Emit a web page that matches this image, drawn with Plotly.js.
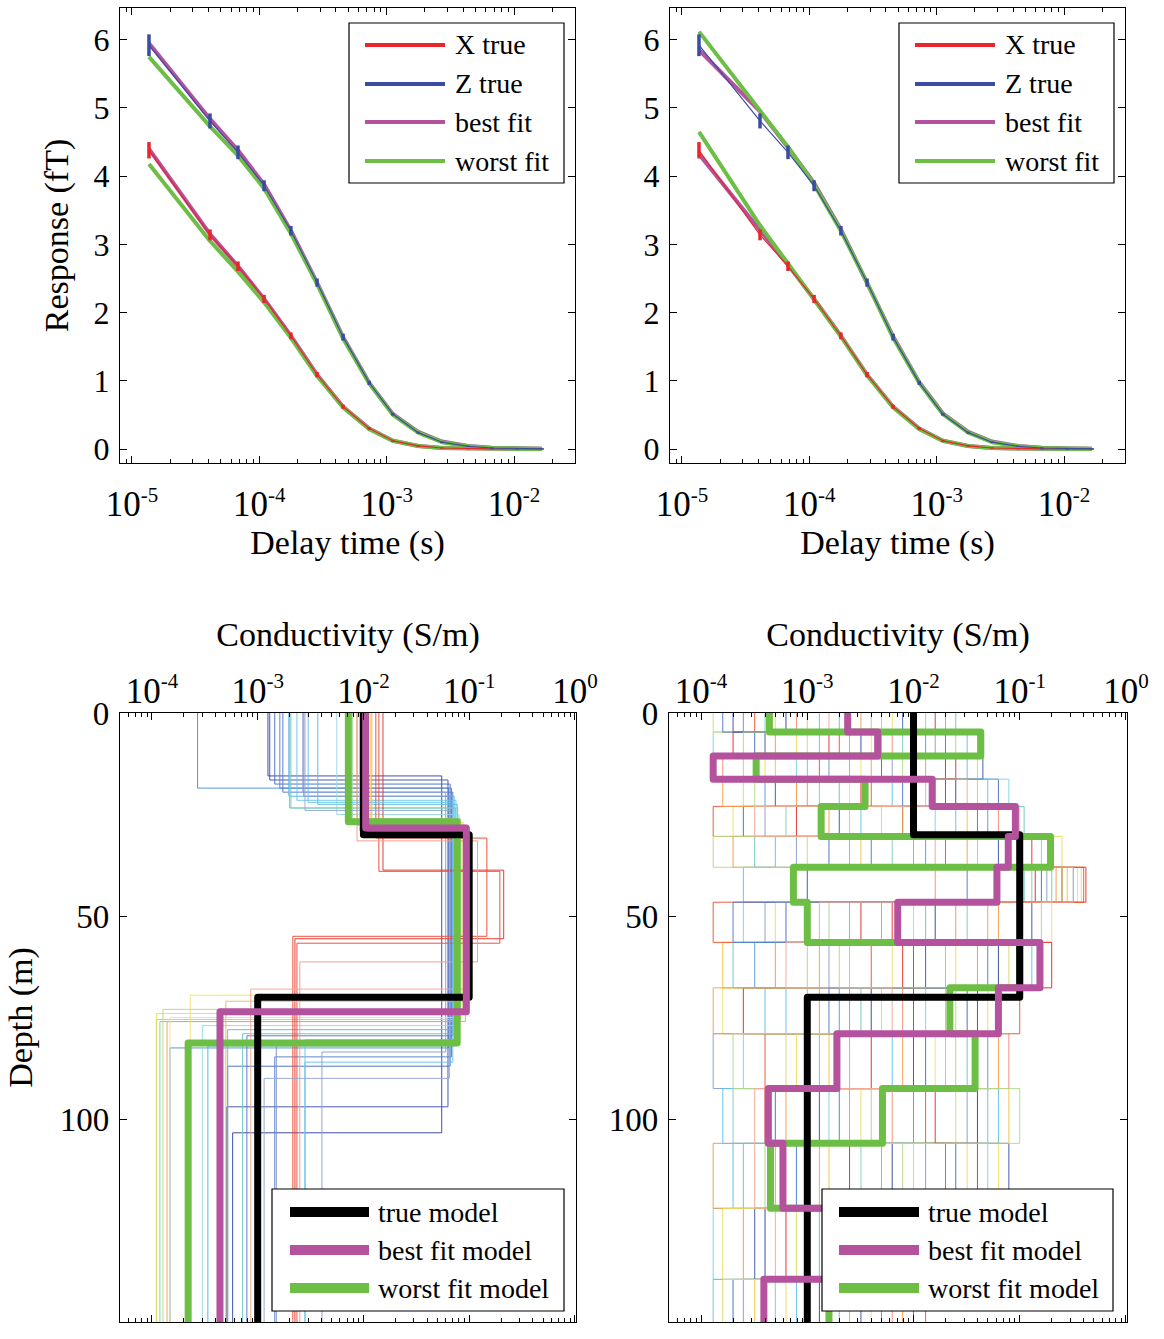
<!DOCTYPE html>
<html><head><meta charset="utf-8">
<script src="https://cdn.plot.ly/plotly-3.0.1.min.js"></script>
<style>body{margin:0;background:#fff}#chart{width:1164px;height:1339px}</style>
</head><body><div id="chart"></div>
<script>
// ================= DATA =================
// --- top panels: transient responses (fT) vs delay time (s)
const delayTimes = [1.36e-5, 4.1e-5, 6.8e-5, 1.09e-4, 1.77e-4, 2.84e-4, 4.55e-4, 7.3e-4, 1.12e-3, 1.77e-3, 2.72e-3, 4.36e-3, 6.7e-3, 1.06e-2, 1.66e-2];
const xTrue = [4.38, 3.14, 2.68, 2.20, 1.66, 1.09, 0.62, 0.30, 0.12, 0.045, 0.015, 0.005, 0.002, 0.001, 0.0005];
const xErr  = [0.12, 0.08, 0.07, 0.06, 0.05, 0.04, 0.03, 0.02, 0.015, 0.012, 0.01, 0.01, 0.01, 0.01, 0.01];
const zTrue = [5.92, 4.81, 4.35, 3.86, 3.20, 2.44, 1.64, 0.97, 0.51, 0.24, 0.10, 0.04, 0.015, 0.006, 0.003];
const zErr  = [0.16, 0.11, 0.10, 0.08, 0.07, 0.06, 0.05, 0.03, 0.02, 0.015, 0.012, 0.01, 0.01, 0.01, 0.01];
// left panel fits
const bestX_L  = [4.40, 3.15, 2.68, 2.20, 1.66, 1.09, 0.62, 0.30, 0.12, 0.045, 0.016, 0.006, 0.002, 0.001, 0.0005];
const worstX_L = [4.18, 3.05, 2.60, 2.15, 1.63, 1.07, 0.61, 0.29, 0.12, 0.045, 0.016, 0.006, 0.002, 0.001, 0.0005];
const bestZ_L  = [5.95, 4.84, 4.38, 3.88, 3.20, 2.44, 1.64, 0.97, 0.51, 0.25, 0.11, 0.045, 0.018, 0.007, 0.003];
const worstZ_L = [5.75, 4.73, 4.30, 3.82, 3.16, 2.42, 1.62, 0.96, 0.50, 0.24, 0.10, 0.04, 0.015, 0.006, 0.003];
// right panel fits
const bestX_R  = [4.32, 3.22, 2.70, 2.20, 1.66, 1.09, 0.62, 0.30, 0.12, 0.045, 0.016, 0.006, 0.002, 0.001, 0.0005];
const worstX_R = [4.65, 3.28, 2.72, 2.20, 1.65, 1.08, 0.61, 0.29, 0.12, 0.045, 0.016, 0.006, 0.002, 0.001, 0.0005];
const bestZ_R  = [5.85, 4.95, 4.42, 3.90, 3.22, 2.45, 1.65, 0.98, 0.52, 0.25, 0.11, 0.045, 0.018, 0.007, 0.003];
const worstZ_R = [6.12, 4.97, 4.43, 3.88, 3.20, 2.44, 1.63, 0.97, 0.51, 0.24, 0.10, 0.04, 0.015, 0.006, 0.003];
const responseLegend = ['X true', 'Z true', 'best fit', 'worst fit'];

// --- bottom panels: conductivity (S/m) models vs depth (m)
const trueSigma = [0.01, 0.1, 0.001];
const trueDepths = [0, 30, 70, 150];
const bestL_sigma = [0.0105, 0.094, 4.4e-4];
const bestL_depths = [0, 28.3, 73.6, 150];
const worstL_sigma = [0.0072, 0.077, 2.2e-4];
const worstL_depths = [0, 26.8, 81.3, 150];
// left ensemble: 3-layer models (s1 to depth d1, s2 to depth d2, s3 below)
const ensL_s1 = [2.7e-4, 1.25e-3, 1.3e-3, 1.45e-3, 1.62e-3, 1.73e-3, 1.97e-3, 2.06e-3, 2.35e-3, 2.67e-3, 2.73e-3, 3.7e-3, 5.6e-3, 2.0e-3, 7.9e-3, 1.17e-2, 8.7e-3, 9.5e-3, 1.0e-2, 1.05e-2, 1.31e-2, 1.53e-2, 1.4e-2, 8.7e-3, 1.2e-2, 9.2e-3, 3.0e-3, 2.8e-3];
const ensL_d1 = [18.5, 15.5, 16.5, 17.5, 18.5, 19.5, 20.5, 23.4, 21.5, 19.5, 20.5, 22.5, 25, 23.4, 26, 27, 27.6, 27, 28, 28.5, 30.8, 38.7, 39.0, 31.5, 29.5, 29, 22, 24];
const ensL_s2 = [0.064, 0.055, 0.063, 0.066, 0.068, 0.07, 0.072, 0.074, 0.075, 0.06, 0.066, 0.077, 0.08, 0.078, 0.083, 0.088, 0.092, 0.085, 0.09, 0.086, 0.147, 0.212, 0.195, 0.12, 0.1, 0.095, 0.07, 0.065];
const ensL_d2 = [82.5, 103.4, 97, 87, 84.7, 79.5, 82, 79, 80.5, 83.5, 81, 78, 77, 76, 75.5, 74, 76, 69.5, 73, 75, 55.0, 55.6, 56.7, 61.3, 68, 71, 86, 90];
const ensL_s3 = [1.48e-4, 5.8e-4, 5.1e-4, 5.2e-4, 1.45e-3, 7.9e-4, 3.38e-4, 7.2e-4, 2.8e-3, 4.05e-3, 1.5e-3, 5.2e-4, 3.0e-4, 1.19e-4, 1.1e-4, 1.11e-4, 1.39e-4, 2.3e-4, 1.27e-4, 1.48e-4, 2.15e-3, 2.25e-3, 2.35e-3, 2.5e-3, 8.6e-4, 5.0e-4, 2.8e-3, 1.15e-3];
const ensL_color = ['#4F8FD8','#34489E','#3D55AC','#4A6EC2','#5680CC','#4F7BD0','#4FB3E8','#6CC7C0','#6BC5EC','#8E9BD6','#7D8FCF','#5DBBE8','#9AD8E6','#80D0B0','#A8D8A0','#EEDC5A','#F3A24F','#F2E06B','#B5D98A','#EDE58A','#EE4A2E','#E5322D','#EA4A3A','#F59A88','#F5A592','#F5B64A','#62C3EA','#98A6DA'];
// right ensemble: 15-layer models with fixed interfaces
const ensR_depths = [0, 4.7, 10.6, 16.3, 23, 30.4, 38, 46.6, 56.5, 67.7, 79, 92.5, 106, 122, 139.5, 150];
const ensR_sigma = [
 [6.3e-4, 3.2e-3, 1.3e-4, 2.5e-2, 7.9e-3, 1e-1, 2.5e-1, 1.6e-2, 6.3e-2, 4.0e-3, 1e-3, 4.0e-2, 6.3e-3, 4.0e-4, 1.3e-3],
 [7.9e-3, 3.2e-4, 5.0e-3, 6.3e-2, 2.5e-4, 1.6e-3, 1.6e-1, 6.3e-4, 1e-2, 3.2e-2, 1.3e-2, 5.0e-4, 2.5e-2, 3.2e-3, 2.0e-4],
 [2.5e-4, 1.3e-2, 1.6e-3, 4.0e-4, 5.0e-2, 1.3e-2, 3.2e-1, 1e-1, 3.2e-4, 2.0e-3, 5.0e-2, 1e-2, 1e-3, 1.6e-2, 5.0e-3],
 [2.0e-3, 1.3e-3, 3.2e-2, 6.3e-3, 3.2e-3, 5.0e-4, 2.5e-4, 5.0e-3, 1.3e-1, 4.0e-4, 6.3e-3, 6.3e-2, 2.0e-4, 1.3e-3, 7.9e-4],
 [1.3e-2, 1.3e-4, 7.9e-4, 7.9e-2, 1.6e-2, 1.6e-1, 2.0e-1, 2.5e-4, 2.5e-3, 1.3e-2, 2.5e-4, 1.6e-3, 5.0e-2, 1.3e-4, 1e-2],
 [4.0e-4, 7.9e-3, 1e-2, 1.3e-3, 6.3e-4, 6.3e-3, 1.3e-1, 3.2e-2, 2.0e-2, 1e-3, 2.5e-3, 2.0e-4, 3.2e-3, 3.2e-2, 5.0e-4],
 [4.0e-3, 2.5e-2, 2.5e-4, 1.3e-2, 1e-1, 4.0e-2, 6.3e-2, 1.6e-3, 1e-3, 6.3e-2, 2.5e-2, 4.0e-3, 4.0e-4, 6.3e-3, 2.5e-3],
 [1.3e-4, 1e-3, 4.0e-2, 2.5e-4, 5.0e-3, 1e-3, 2.5e-1, 1e-2, 7.9e-2, 5.0e-3, 6.3e-4, 2.5e-2, 1e-2, 7.9e-4, 1.6e-4],
 [6.3e-3, 4.0e-3, 3.2e-3, 2.5e-3, 2.0e-4, 7.9e-2, 3.5e-1, 2.0e-1, 6.3e-3, 1.6e-4, 1.6e-2, 1e-3, 6.3e-2, 2.0e-3, 4.0e-3],
 [1e-3, 4.0e-2, 5.0e-4, 4.0e-2, 3.2e-2, 3.2e-3, 2.8e-1, 1e-3, 1.6e-4, 2.0e-2, 1.6e-3, 7.9e-2, 1.6e-3, 4.0e-2, 3.2e-4],
 [2.0e-2, 5.0e-4, 1.3e-2, 7.9e-4, 1.6e-3, 2.0e-4, 2.2e-1, 6.3e-2, 4.0e-2, 1.3e-3, 6.3e-2, 2.5e-3, 1.3e-4, 2.5e-4, 1.6e-3],
 [3.2e-4, 2.0e-3, 1.3e-3, 4.0e-3, 1.3e-4, 2.0e-2, 4.0e-1, 1.3e-4, 4.0e-3, 1e-1, 4.0e-4, 1.3e-2, 2.0e-2, 5.0e-3, 1.3e-2],
 [2.5e-3, 2.0e-4, 2.0e-2, 2.0e-2, 1e-2, 2.0e-1, 1.4e-1, 3.2e-3, 2.0e-1, 2.5e-4, 4.0e-3, 4.0e-4, 2.5e-3, 6.3e-4, 1e-3],
 [7.9e-4, 6.3e-3, 1.6e-4, 1e-3, 6.3e-2, 1e-2, 1.6e-2, 2.5e-2, 5.0e-4, 7.9e-3, 7.9e-2, 6.3e-3, 5.0e-4, 1.3e-2, 6.3e-3],
 [1e-2, 1.6e-2, 6.3e-3, 1e-2, 4.0e-4, 7.9e-4, 1.8e-1, 4.0e-4, 1.6e-3, 2.5e-3, 1.3e-4, 3.2e-2, 1.3e-2, 1.6e-3, 2.5e-4],
 [2.0e-4, 4.0e-4, 4.5e-2, 5.0e-4, 2.0e-3, 6.3e-2, 1e-3, 1.3e-1, 1.3e-2, 4.0e-2, 1e-2, 1.3e-3, 7.9e-2, 3.2e-4, 3.2e-3],
 [1.3e-3, 3.2e-2, 1e-3, 5.0e-2, 2.5e-2, 2.5e-3, 3.2e-1, 2.5e-3, 1e-1, 6.3e-4, 1.3e-3, 1.6e-4, 5.0e-3, 2.5e-2, 1.3e-4],
 [2.5e-2, 2.5e-3, 2.5e-3, 2.0e-3, 1.1e-1, 3.2e-4, 1.1e-1, 1.3e-2, 2.0e-4, 3.2e-3, 3.2e-2, 5.0e-2, 2.5e-4, 7.9e-3, 2.0e-3],
 [5.0e-4, 7.9e-4, 4.0e-4, 1.6e-2, 1.3e-3, 2.5e-1, 3.8e-1, 5.0e-4, 2.5e-2, 5.0e-2, 7.9e-4, 3.2e-3, 3.2e-2, 1.6e-4, 6.3e-4],
 [3.2e-3, 1e-2, 4.0e-3, 1.6e-4, 7.9e-3, 3.2e-2, 2.5e-1, 5.0e-2, 1.3e-3, 1.3e-4, 7.9e-3, 6.3e-4, 1.3e-3, 2.5e-3, 7.9e-3],
 [1.6e-2, 1.6e-3, 2.5e-2, 3.2e-3, 7.9e-4, 1.3e-1, 4.2e-1, 6.3e-3, 7.9e-3, 1e-2, 4.0e-2, 1.6e-2, 4.0e-2, 1e-3, 4.0e-4],
 [1.6e-4, 2.0e-2, 1.3e-4, 7.9e-3, 4.0e-2, 4.0e-3, 3.2e-2, 2.0e-4, 5.0e-2, 1.6e-3, 2.0e-3, 2.0e-3, 7.9e-4, 2.0e-2, 1e-2],
 [5.0e-3, 2.5e-4, 7.9e-3, 3.2e-4, 2.5e-3, 1.3e-4, 2.0e-1, 1.6e-1, 2.0e-3, 2.5e-2, 2.0e-4, 1e-1, 7.9e-3, 4.0e-3, 1e-3],
 [1.6e-3, 5.0e-3, 3.2e-4, 3.2e-2, 3.2e-4, 1.6e-2, 3.2e-1, 1.3e-3, 6.3e-4, 6.3e-3, 2.0e-2, 3.2e-4, 3.2e-4, 5.0e-4, 2.5e-3]
];
const ensR_color = ['#34489E','#4A6EC2','#5A9BDB','#5FC1EA','#7FD3E6','#7FCFB8','#A9D59A','#D3DC6A','#F2E36A','#F5C242','#F59A45','#EE5533','#E02A2A','#F48B78','#8C9BD0','#3D55AC','#62C3EA','#6CC7C0','#EEDC5A','#F3A24F','#E5322D','#4F7BD0','#B5D98A','#F5A592'];
const bestR_sigma  = [2.4e-3, 4.6e-3, 1.3e-4, 1.5e-2, 9.1e-2, 7.8e-2, 6.1e-2, 7.1e-3, 1.55e-1, 6.3e-2, 1.9e-3, 4.3e-4, 5.9e-4, 3.0e-3, 3.9e-4];
const worstR_sigma = [4.4e-4, 4.3e-2, 3.3e-4, 3.5e-3, 1.35e-3, 1.95e-1, 7.4e-4, 1.0e-3, 1.0e-1, 2.2e-2, 3.8e-2, 5.1e-3, 4.5e-4, 1.6e-3, 1.6e-3];
const modelLegend = ['true model', 'best fit model', 'worst fit model'];

// tick labels (exponents shown as superscripts)
const timeTickVals = [1e-5, 1e-4, 1e-3, 1e-2];
const timeTickExp = ['-5', '-4', '-3', '-2'];
const condTickVals = [1e-4, 1e-3, 1e-2, 1e-1, 1];
const condTickExp = ['-4', '-3', '-2', '-1', '0'];

// ================= STYLE / BUILD =================
const W = 1164, H = 1339;
const px = x => x / W, py = y => 1 - y / H;
const FONT = 'Liberation Serif';
const C = {red: '#E8262B', blue: '#3A4CA2', mag: '#B4529E', green: '#6DBE45', black: '#000000'};

const powLabels = exps => exps.map(e => '10<sup><span style="font-size:21px">' + e + '</span></sup>');
function minorVals(fromExp, toExp) {
  const out = [];
  for (let e = fromExp; e <= toExp; e++) for (let m = 2; m <= 9; m++) out.push(m * Math.pow(10, e));
  return out;
}
function steps(sig, depths) {
  const x = [], y = [];
  for (let i = 0; i < sig.length; i++) { x.push(sig[i], sig[i]); y.push(depths[i], depths[i + 1]); }
  return {x, y};
}

const traces = [];
// top panels
[[bestX_L, worstX_L, bestZ_L, worstZ_L, 'x', 'y'], [bestX_R, worstX_R, bestZ_R, worstZ_R, 'x2', 'y2']].forEach(p => {
  const [bx, wx, bz, wz, xa, ya] = p;
  const line = (y, color, w) => ({type: 'scatter', mode: 'lines', x: delayTimes, y: y, xaxis: xa, yaxis: ya, line: {color: color, width: w}, showlegend: false, hoverinfo: 'skip'});
  traces.push(line(bx, C.mag, 4), line(bz, C.mag, 4));
  traces.push(line(wx, C.green, 4), line(wz, C.green, 4));
  const tx = line(xTrue, C.red, 1.2); tx.error_y = {type: 'data', array: xErr, visible: true, color: C.red, thickness: 3.5, width: 0};
  const tz = line(zTrue, C.blue, 1.2); tz.error_y = {type: 'data', array: zErr, visible: true, color: C.blue, thickness: 3.5, width: 0};
  traces.push(tx, tz);
});
// bottom-left ensemble
for (let i = 0; i < ensL_s1.length; i++) {
  const s = steps([ensL_s1[i], ensL_s2[i], ensL_s3[i]], [0, ensL_d1[i], ensL_d2[i], 150]);
  traces.push({type: 'scatter', mode: 'lines', x: s.x, y: s.y, xaxis: 'x3', yaxis: 'y3', line: {color: ensL_color[i], width: 1}, opacity: 0.95, showlegend: false, hoverinfo: 'skip'});
}
// bottom-right ensemble
for (let i = 0; i < ensR_sigma.length; i++) {
  const s = steps(ensR_sigma[i], ensR_depths);
  traces.push({type: 'scatter', mode: 'lines', x: s.x, y: s.y, xaxis: 'x4', yaxis: 'y4', line: {color: ensR_color[i], width: 1}, opacity: 0.95, showlegend: false, hoverinfo: 'skip'});
}
function thick(sig, depths, color, xa, ya) {
  const s = steps(sig, depths);
  return {type: 'scatter', mode: 'lines', x: s.x, y: s.y, xaxis: xa, yaxis: ya, line: {color: color, width: 7}, showlegend: false, hoverinfo: 'skip'};
}
traces.push(thick(worstL_sigma, worstL_depths, C.green, 'x3', 'y3'));
traces.push(thick(trueSigma, trueDepths, C.black, 'x3', 'y3'));
traces.push(thick(bestL_sigma, bestL_depths, C.mag, 'x3', 'y3'));
traces.push(thick(worstR_sigma, ensR_depths, C.green, 'x4', 'y4'));
traces.push(thick(trueSigma, trueDepths, C.black, 'x4', 'y4'));
traces.push(thick(bestR_sigma, ensR_depths, C.mag, 'x4', 'y4'));

// axes
const baseAxis = {
  showline: true, linecolor: '#000', linewidth: 1.2, mirror: 'allticks',
  ticks: 'inside', ticklen: 7, tickwidth: 1, tickcolor: '#000',
  showgrid: false, zeroline: false, automargin: false,
  tickfont: {family: FONT, size: 35, color: '#000'}
};
function minorCfg(vals) { return {tickmode: 'array', tickvals: vals, ticks: 'inside', ticklen: 4, tickwidth: 1, tickcolor: '#000', showgrid: false}; }
const titleFont = {family: FONT, size: 34, color: '#000'};
const timeAxis = (dom, anchor) => Object.assign({}, baseAxis, {
  type: 'log', domain: dom, anchor: anchor, range: [-5.094, -1.521],
  tickmode: 'array', tickvals: timeTickVals, ticktext: powLabels(timeTickExp), ticklabelstandoff: 10,
  minor: minorCfg(minorVals(-6, -2)),
  title: {text: 'Delay time (s)', font: titleFont, standoff: 6}
});
const respAxis = (dom, anchor, withTitle) => Object.assign({}, baseAxis, {
  domain: dom, anchor: anchor, range: [-0.205, 6.466], tickmode: 'array', tickvals: [0, 1, 2, 3, 4, 5, 6],
  tickfont: {family: FONT, size: 32, color: '#000'}, ticklabelstandoff: 3,
  title: withTitle ? {text: 'Response (fT)', font: titleFont, standoff: 14} : {text: ''}
});
const condAxis = (dom, anchor) => Object.assign({}, baseAxis, {
  type: 'log', side: 'top', domain: dom, anchor: anchor, range: [-4.302, 0.01],
  tickmode: 'array', tickvals: condTickVals, ticktext: powLabels(condTickExp), ticklabelstandoff: -5,
  minor: minorCfg(minorVals(-5, -1)),
  title: {text: 'Conductivity (S/m)', font: titleFont, standoff: 12}
});
const depthAxis = (dom, anchor, withTitle) => Object.assign({}, baseAxis, {
  domain: dom, anchor: anchor, range: [150, 0], tickmode: 'array', tickvals: [0, 50, 100, 150],
  tickfont: {family: FONT, size: 33, color: '#000'}, ticklabelstandoff: 3,
  title: withTitle ? {text: 'Depth (m)', font: titleFont, standoff: 16} : {text: ''}
});

const topY = [py(463), py(8)], botY = [py(1322), py(713)];
const layout = {
  width: W, height: H, margin: {l: 0, r: 0, t: 0, b: 0},
  paper_bgcolor: '#fff', plot_bgcolor: '#fff', showlegend: false,
  font: {family: FONT, color: '#000'},
  xaxis: timeAxis([px(120), px(575)], 'y'),
  yaxis: respAxis(topY, 'x', true),
  xaxis2: timeAxis([px(670), px(1125)], 'y2'),
  yaxis2: respAxis(topY, 'x2', false),
  xaxis3: condAxis([px(120), px(576)], 'y3'),
  yaxis3: depthAxis(botY, 'x3', true),
  xaxis4: condAxis([px(669), px(1127)], 'y4'),
  yaxis4: depthAxis(botY, 'x4', false),
  shapes: [], annotations: []
};

// custom legends (boxes, sample lines, labels)
function legend(box, x0, x1, tx, rows, labels, colors, lw, fs) {
  layout.shapes.push({type: 'rect', xref: 'paper', yref: 'paper', x0: px(box[0]), x1: px(box[2]), y0: py(box[3]), y1: py(box[1]), fillcolor: '#fff', line: {color: '#000', width: 1.2}, layer: 'above'});
  labels.forEach((lab, i) => {
    layout.shapes.push({type: 'line', xref: 'paper', yref: 'paper', x0: px(x0), x1: px(x1), y0: py(rows[i]), y1: py(rows[i]), line: {color: colors[i], width: lw}, layer: 'above'});
    layout.annotations.push({xref: 'paper', yref: 'paper', x: px(tx), y: py(rows[i]), xanchor: 'left', yanchor: 'middle', showarrow: false, text: lab, font: {family: FONT, size: fs, color: '#000'}});
  });
}
const respColors = [C.red, C.blue, C.mag, C.green];
const modelColors = [C.black, C.mag, C.green];
legend([349, 23, 564, 183], 365, 445, 453, [45, 84, 122, 161], responseLegend, respColors, 4, 28);
legend([899, 23, 1114, 183], 915, 995, 1003, [45, 84, 122, 161], responseLegend, respColors, 4, 28);
legend([272, 1189, 564, 1311], 290, 369, 376, [1212, 1250, 1288], modelLegend, modelColors, 10, 28);
legend([822, 1189, 1113, 1311], 839, 919, 926, [1212, 1250, 1288], modelLegend, modelColors, 10, 28);

Plotly.newPlot('chart', traces, layout, {staticPlot: true}).then(() => {
  document.querySelectorAll('.scatterlayer path.js-line').forEach(p => { p.style.strokeLinejoin = 'round'; });
});
</script></body></html>
